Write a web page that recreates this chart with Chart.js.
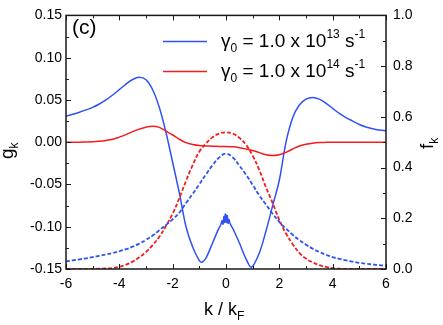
<!DOCTYPE html>
<html><head><meta charset="utf-8">
<script src="https://cdn.jsdelivr.net/npm/chart.js@4.4.1/dist/chart.umd.min.js"></script>
<style>html,body{margin:0;padding:0;background:#fff}canvas{display:block}</style>
</head><body>
<canvas id="c" width="443" height="325"></canvas>
<script>
// k / k_F sampling grid (for three of the curves)
const kGrid = [-6,-5.75,-5.5,-5.25,-5,-4.75,-4.5,-4.25,-4,-3.75,-3.5,-3.25,-3,-2.75,-2.5,-2.25,-2,-1.75,-1.5,-1.25,-1,-0.75,-0.5,-0.25,0,0.25,0.5,0.75,1,1.25,1.5,1.75,2,2.25,2.5,2.75,3,3.25,3.5,3.75,4,4.25,4.5,4.75,5,5.25,5.5,5.75,6];
// g_k, gamma0 = 1e14 (red solid, left axis)
const g14 = [0,0,0,0.0002,0.0004,0.001,0.002,0.0035,0.006,0.009,0.0125,0.0155,0.0178,0.019,0.0175,0.013,0.0085,0.0035,-0.0005,-0.0027,-0.004,-0.0045,-0.0047,-0.005,-0.005,-0.0055,-0.0065,-0.008,-0.0098,-0.0123,-0.0148,-0.0158,-0.0148,-0.012,-0.008,-0.0045,-0.0025,-0.0012,-0.0005,-0.0002,0,0,0,0,0,0,0,0,0];
// f_k, gamma0 = 1e13 (blue dashed, right axis)
const f13 = [0.030,0.034,0.038,0.042,0.047,0.052,0.057,0.063,0.070,0.078,0.088,0.100,0.115,0.132,0.153,0.174,0.196,0.222,0.26,0.296,0.334,0.373,0.41,0.44,0.455,0.44,0.408,0.372,0.332,0.29,0.254,0.218,0.186,0.159,0.135,0.114,0.096,0.080,0.067,0.056,0.047,0.040,0.034,0.029,0.024,0.021,0.018,0.015,0.013];
// f_k, gamma0 = 1e14 (red dashed, right axis)
const f14 = [0,0,0,0,0.0005,0.001,0.002,0.004,0.009,0.017,0.029,0.046,0.067,0.094,0.127,0.17,0.218,0.28,0.347,0.41,0.463,0.495,0.52,0.534,0.539,0.534,0.517,0.49,0.447,0.39,0.322,0.26,0.193,0.14,0.098,0.064,0.041,0.026,0.015,0.008,0.003,0.001,0,0,0,0,0,0,0];
// g_k, gamma0 = 1e13 (blue solid, left axis) — own k samples incl. noisy centre
const k13 = [-6,-5.75,-5.5,-5.25,-5,-4.75,-4.5,-4.25,-4,-3.75,-3.5,-3.25,-3,-2.75,-2.5,-2.25,-2,-1.75,-1.5,-1.25,-1,-0.9,-0.75,-0.5,-0.3,-0.2,-0.15,-0.11,-0.08,-0.05,-0.03,-0.01,0.01,0.03,0.05,0.08,0.11,0.15,0.2,0.3,0.5,0.75,0.95,1.25,1.5,1.75,2,2.25,2.5,2.75,3,3.25,3.5,3.75,4,4.25,4.5,4.75,5,5.25,5.5,5.75,6];
const g13 = [0.0306,0.0330,0.0355,0.0382,0.0412,0.0452,0.0500,0.0558,0.0622,0.0688,0.0742,0.0767,0.0738,0.062,0.041,0.0115,-0.024,-0.060,-0.100,-0.124,-0.140,-0.142,-0.137,-0.119,-0.104,-0.098,-0.093,-0.097,-0.088,-0.095,-0.085,-0.094,-0.086,-0.095,-0.087,-0.096,-0.091,-0.096,-0.099,-0.105,-0.119,-0.138,-0.148,-0.131,-0.105,-0.075,-0.045,0.0,0.029,0.044,0.051,0.053,0.051,0.046,0.040,0.034,0.029,0.025,0.021,0.018,0.016,0.0145,0.0134];
// axis ranges
const xRange = [-6, 6], gRange = [-0.15, 0.15], fRange = [0, 1];
const seriesLabels = ['13', '14'];

const BLUE = '#2f52f5', RED = '#f51c1c';
const FONT = "'Liberation Sans', Arial, Helvetica, sans-serif";
Chart.defaults.font.family = FONT;
Chart.defaults.color = '#000';

const pts = (xs, ys) => xs.map((x, i) => ({x, y: ys[i]}));

const decor = {
  id: 'decor',
  afterDatasetsDraw(chart) {
    const {ctx, chartArea: a, scales} = chart;
    const xs = scales.x, yl = scales.y, yr = scales.y2;
    ctx.save();
    ctx.strokeStyle = '#1a1a1a';
    ctx.lineWidth = 1;
    ctx.beginPath();
    for (let i = 0; i <= 12; i++) {
      const v = xRange[0] + i;
      const x = Math.round(xs.getPixelForValue(v)) + 0.5;
      const L = (i % 2 === 0) ? 5 : 3;
      ctx.moveTo(x, a.bottom); ctx.lineTo(x, a.bottom - L);
      ctx.moveTo(x, a.top); ctx.lineTo(x, a.top + L);
    }
    for (let i = 0; i <= 12; i++) {
      const v = gRange[0] + i * 0.025;
      const y = Math.round(yl.getPixelForValue(v)) + 0.5;
      const L = (i % 2 === 0) ? 5 : 3;
      ctx.moveTo(a.left, y); ctx.lineTo(a.left + L, y);
    }
    for (let i = 0; i <= 10; i++) {
      const v = i / 10;
      const y = Math.round(yr.getPixelForValue(v)) + 0.5;
      const L = (i % 2 === 0) ? 5 : 3;
      ctx.moveTo(a.right, y); ctx.lineTo(a.right - L, y);
    }
    ctx.stroke();
    ctx.lineWidth = 1.5;
    ctx.strokeRect(a.left, a.top, a.right - a.left, a.bottom - a.top);

    ctx.fillStyle = '#000';
    ctx.textBaseline = 'alphabetic';
    ctx.textAlign = 'left';
    const big = s => s + 'px ' + FONT;

    ctx.font = big(21);
    ctx.fillText('(c)', 72, 34);

    const legendRow = (y, color, exp) => {
      ctx.strokeStyle = color; ctx.lineWidth = 1.5;
      ctx.beginPath(); ctx.moveTo(163, y - 5.5); ctx.lineTo(207, y - 5.5); ctx.stroke();
      let x = 221;
      const seg = (t, size, dy) => { ctx.font = big(size); ctx.fillText(t, x, y + dy); x += ctx.measureText(t).width; };
      seg('\u03B3', 19, 0);
      seg('0', 12, 5);
      seg(' = 1.0 x 10', 19, 0);
      seg(exp, 12, -9);
      seg(' s', 19, 0);
      seg('-1', 12, -9);
    };
    legendRow(47, BLUE, seriesLabels[0]);
    legendRow(77, RED, seriesLabels[1]);

    ctx.fillStyle = '#000';
    let x = 204;
    const segX = (t, size, dy) => { ctx.font = big(size); ctx.fillText(t, x, 315 + dy); x += ctx.measureText(t).width; };
    segX('k / k', 18, 0);
    segX('F', 12, 5);

    ctx.save();
    ctx.translate(13, 159);
    ctx.rotate(-Math.PI / 2);
    ctx.font = big(19);
    ctx.fillText('g', 0, 0);
    let w = ctx.measureText('g').width;
    ctx.font = big(12);
    ctx.fillText('k', w, 5);
    ctx.restore();

    ctx.save();
    ctx.translate(433, 149);
    ctx.rotate(-Math.PI / 2);
    ctx.font = big(19);
    ctx.fillText('f', 0, 0);
    w = ctx.measureText('f').width;
    ctx.font = big(12);
    ctx.fillText('k', w, 5);
    ctx.restore();

    ctx.restore();
  }
};

const line = (data, color, axis, dashed, tension) => ({
  data, yAxisID: axis, showLine: true, borderColor: color, backgroundColor: color,
  borderWidth: dashed ? 1.8 : 1.5, borderDash: dashed ? [4, 2] : [],
  pointRadius: 0, pointHoverRadius: 0, fill: false, tension
});

new Chart(document.getElementById('c'), {
  type: 'scatter',
  data: {
    datasets: [
      line(pts(kGrid, f13), BLUE, 'y2', true, 0.4),
      line(pts(kGrid, f14), RED, 'y2', true, 0.4),
      line(pts(kGrid, g14), RED, 'y', false, 0.4),
      line(pts(k13, g13), BLUE, 'y', false, 0.3)
    ]
  },
  options: {
    responsive: false, animation: false, devicePixelRatio: 1,
    layout: { padding: { top: 8, left: 0, right: 0, bottom: 0 } },
    plugins: { legend: { display: false }, tooltip: { enabled: false } },
    scales: {
      x: {
        type: 'linear', min: xRange[0], max: xRange[1],
        grid: { display: false, drawTicks: false }, border: { display: false },
        ticks: { stepSize: 2, padding: 7, font: { size: 14 }, color: '#000',
                 callback: v => String(Math.round(v)) },
        afterFit: s => { s.height = 56; }
      },
      y: {
        position: 'left', min: gRange[0], max: gRange[1],
        grid: { display: false, drawTicks: false }, border: { display: false },
        ticks: { stepSize: 0.05, padding: 4, font: { size: 14 }, color: '#000',
                 callback: v => (Math.abs(v) < 1e-9 ? 0 : v).toFixed(2) },
        afterFit: s => { s.width = 66; }
      },
      y2: {
        position: 'right', min: fRange[0], max: fRange[1],
        grid: { display: false, drawTicks: false }, border: { display: false },
        ticks: { stepSize: 0.2, padding: 7, font: { size: 14 }, color: '#000',
                 callback: v => v.toFixed(1) },
        afterFit: s => { s.width = 57; }
      }
    }
  },
  plugins: [decor]
});
</script>
</body></html>
